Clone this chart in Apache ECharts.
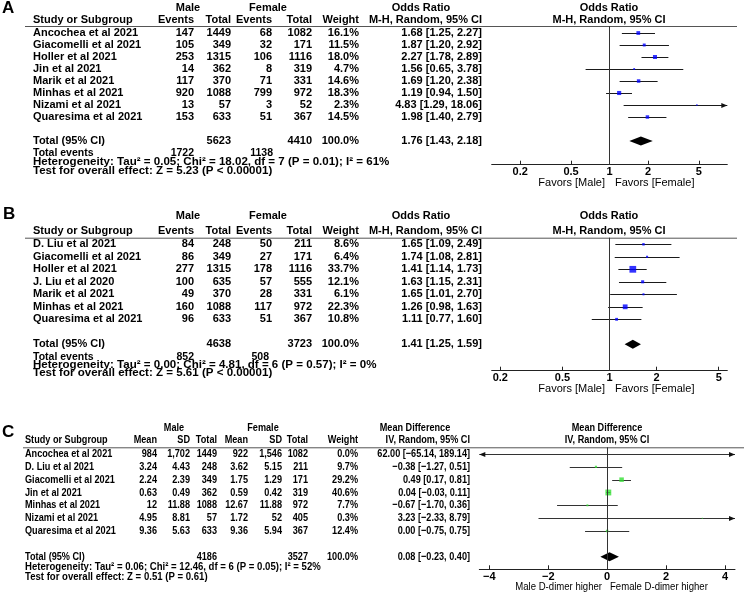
<!DOCTYPE html>
<html><head><meta charset="utf-8">
<script src="https://cdn.jsdelivr.net/npm/echarts@6/dist/echarts.min.js"></script>
<style>html,body{margin:0;padding:0;background:#fff}#c{width:744px;height:596px}</style>
</head><body><div id="c"></div>
<script>
// ---------------- Panel A data ----------------
const studiesA = ['Ancochea et al 2021','Giacomelli et al 2021','Holler et al 2021','Jin et al 2021','Marik et al 2021','Minhas et al 2021','Nizami et al 2021','Quaresima et al 2021'];
const maleEventsA = [147,105,253,14,117,920,13,153];
const maleTotalA = [1449,349,1315,362,370,1088,57,633];
const femaleEventsA = [68,32,106,8,71,799,3,51];
const femaleTotalA = [1082,171,1116,319,331,972,52,367];
const weightA = [16.1,11.5,18.0,4.7,14.6,18.3,2.3,14.5];
const orA = [1.68,1.87,2.27,1.56,1.69,1.19,4.83,1.98];
const orLowA = [1.25,1.20,1.78,0.65,1.20,0.94,1.29,1.40];
const orHighA = [2.27,2.92,2.89,3.78,2.38,1.50,18.06,2.79];
const totalsA = [5623, 4410];
const totalEventsA = [1722, 1138];
const pooledA = [1.76, 1.43, 2.18];
const hetA = 'Heterogeneity: Tau² = 0.05; Chi² = 18.02, df = 7 (P = 0.01); I² = 61%';
const testA = 'Test for overall effect: Z = 5.23 (P < 0.00001)';

// ---------------- Panel B data ----------------
const studiesB = ['D. Liu et al 2021','Giacomelli et al 2021','Holler et al 2021','J. Liu et al 2020','Marik et al 2021','Minhas et al 2021','Quaresima et al 2021'];
const maleEventsB = [84,86,277,100,49,160,96];
const maleTotalB = [248,349,1315,635,370,1088,633];
const femaleEventsB = [50,27,178,57,28,117,51];
const femaleTotalB = [211,171,1116,555,331,972,367];
const weightB = [8.6,6.4,33.7,12.1,6.1,22.3,10.8];
const orB = [1.65,1.74,1.41,1.63,1.65,1.26,1.11];
const orLowB = [1.09,1.08,1.14,1.15,1.01,0.98,0.77];
const orHighB = [2.49,2.81,1.73,2.31,2.70,1.63,1.60];
const totalsB = [4638, 3723];
const totalEventsB = [852, 508];
const pooledB = [1.41, 1.25, 1.59];
const hetB = 'Heterogeneity: Tau² = 0.00; Chi² = 4.81, df = 6 (P = 0.57); I² = 0%';
const testB = 'Test for overall effect: Z = 5.61 (P < 0.00001)';

// ---------------- Panel C data ----------------
const studiesC = ['Ancochea et al 2021','D. Liu et al 2021','Giacomelli et al 2021','Jin et al 2021','Minhas et al 2021','Nizami et al 2021','Quaresima et al 2021'];
const maleMeanC = ['984','3.24','2.24','0.63','12','4.95','9.36'];
const maleSDC = ['1,702','4.43','2.39','0.49','11.88','8.81','5.63'];
const maleTotalC = [1449,248,349,362,1088,57,633];
const femaleMeanC = ['922','3.62','1.75','0.59','12.67','1.72','9.36'];
const femaleSDC = ['1,546','5.15','1.29','0.42','11.88','52','5.94'];
const femaleTotalC = [1082,211,171,319,972,405,367];
const weightC = [0.0,9.7,29.2,40.6,7.7,0.3,12.4];
const mdC = [62.00,-0.38,0.49,0.04,-0.67,3.23,0.00];
const mdLowC = [-65.14,-1.27,0.17,-0.03,-1.70,-2.33,-0.75];
const mdHighC = [189.14,0.51,0.81,0.11,0.36,8.79,0.75];
const totalsC = [4186, 3527];
const pooledC = [0.08, -0.23, 0.40];
const hetC = 'Heterogeneity: Tau² = 0.06; Chi² = 12.46, df = 6 (P = 0.05); I² = 52%';
const testC = 'Test for overall effect: Z = 0.51 (P = 0.61)';

// tick labels
const ticksOR = [0.2, 0.5, 1, 2, 5];
const ticksMD = [-4, -2, 0, 2, 4];

// ---------------- helpers ----------------
const SANS = '"Liberation Sans", Arial, Helvetica, sans-serif';
const fm = v => v.toFixed(2).replace('-', '\u2212');
const ci = (e, l, h) => fm(e) + ' [' + fm(l) + ', ' + fm(h) + ']';
const pct = w => w.toFixed(1) + '%';

function T(x, y, s, font, align, sx) {
  return {type: 'text', x: x, y: y, scaleX: sx || 1, silent: true, z: 10,
    style: {text: String(s), font: font, fill: '#000', align: align || 'left', verticalAlign: 'middle'}};
}
function L(x1, y1, x2, y2, c) {
  return {type: 'line', silent: true, shape: {x1: x1, y1: y1, x2: x2, y2: y2}, style: {stroke: c || '#555', lineWidth: 1}};
}

const graphics = [];
const grids = [], xAxes = [], yAxes = [], series = [];

function buildPanel(P, k) {
  const rowY = i => P.row0 + P.rowH * i;
  const n = P.names.length;
  const sx = P.sx, sxr = P.sxr;
  graphics.push(T(P.letterX, P.letterY, P.letter, 'bold 17px ' + SANS, 'left'));
  P.hdr1.forEach(h => graphics.push(T(h[0], P.h1, h[1], P.bold, 'center', sx)));
  graphics.push(T(P.plotCenter, P.h2, P.plotHdr2, P.bold, 'center', sx));
  graphics.push(T(P.nameX, P.h2, 'Study or Subgroup', P.bold, 'left', sx));
  graphics.push(L(P.lineX0, P.top + 0.5, P.lineX1, P.top + 0.5, '#555'));
  P.names.forEach((s, i) => graphics.push(T(P.nameX, rowY(i), s, P.bold, 'left', sx)));
  P.cols.forEach(c => {
    graphics.push(T(c.x, P.h2, c.hdr, P.bold, 'right', sx));
    c.vals.forEach((v, i) => graphics.push(T(c.x, rowY(i), v, P.bold, 'right', sx)));
  });
  const ty = rowY(n + 1);
  graphics.push(T(P.nameX, ty, 'Total (95% CI)', P.bold, 'left', sx));
  P.totalCells.forEach(c => graphics.push(T(c[0], ty, c[1], P.bold, 'right', sx)));
  P.extraRows.forEach(r => {
    graphics.push(T(P.nameX, r.y, r.text, P.small, 'left', sx * (r.cells ? 1 : P.wide)));
    (r.cells || []).forEach(c => graphics.push(T(c[0], r.y, c[1], P.small, 'right', sx)));
  });
  graphics.push(T(P.favL[0], P.favY, P.favL[1], P.reg, 'right', sxr));
  graphics.push(T(P.favR[0], P.favY, P.favR[1], P.reg, 'left', sxr));

  grids.push({left: P.gLeft, width: P.gWidth, top: P.top, height: P.bottom - P.top});
  xAxes.push({
    type: 'value', gridIndex: k, min: P.xMin, max: P.xMax, position: 'bottom',
    axisLine: {show: true, onZero: false, lineStyle: {color: '#222', width: 1}},
    axisTick: {show: true, inside: true, length: 4, customValues: P.ticks, lineStyle: {color: '#222'}},
    axisLabel: {customValues: P.ticks, formatter: P.fmt, margin: 2, color: '#000',
      fontSize: 11, fontWeight: 'bold', fontFamily: SANS},
    splitLine: {show: false}
  });
  yAxes.push({type: 'value', gridIndex: k, inverse: true, show: false,
    min: (P.top - P.row0) / P.rowH, max: (P.bottom - P.row0) / P.rowH});

  const tf = P.tf;
  series.push({
    type: 'custom', xAxisIndex: k, yAxisIndex: k, z: 2, silent: true,
    data: P.est.map((e, i) => [tf(P.lo[i]), tf(P.hi[i]), i]),
    encode: {x: [0, 1], y: 2},
    renderItem: function (params, api) {
      const lo = api.value(0), hi = api.value(1), yv = api.value(2);
      const p1 = api.coord([lo, yv]), p2 = api.coord([hi, yv]);
      const cs = params.coordSys;
      const xmin = cs.x, xmax = cs.x + cs.width;
      const y = Math.round(p1[1]) + 0.5;
      const x1 = Math.max(p1[0], xmin), x2 = Math.min(p2[0], xmax);
      const ch = [{type: 'line', shape: {x1: x1, y1: y, x2: x2, y2: y}, style: {stroke: P.ciColor, lineWidth: 1}}];
      if (p1[0] < xmin) ch.push({type: 'polygon', shape: {points: [[xmin, y], [xmin + 6, y - 2.5], [xmin + 6, y + 2.5]]}, style: {fill: '#111'}});
      if (p2[0] > xmax) ch.push({type: 'polygon', shape: {points: [[xmax, y], [xmax - 6, y - 2.5], [xmax - 6, y + 2.5]]}, style: {fill: '#111'}});
      return {type: 'group', children: ch};
    }
  });
  series.push({
    type: 'scatter', xAxisIndex: k, yAxisIndex: k, z: 3, silent: true, clip: true,
    symbol: 'rect',
    data: P.est.map((e, i) => [tf(e), i]),
    symbolSize: (v, p) => 1 + P.weight[p.dataIndex] * P.sizeK,
    itemStyle: {color: P.markColor},
    markLine: {silent: true, symbol: ['none', 'none'], label: {show: false}, animation: false,
      lineStyle: {color: '#333', width: 1, type: 'solid'}, data: [{xAxis: tf(P.nullValue)}]}
  });
  series.push({
    type: 'custom', xAxisIndex: k, yAxisIndex: k, z: 4, silent: true,
    data: [[tf(P.pooled[1]), tf(P.pooled[0]), tf(P.pooled[2]), n + 1]],
    encode: {x: [0, 1, 2], y: 3},
    renderItem: function (params, api) {
      const yv = api.value(3);
      const a = api.coord([api.value(0), yv]), b = api.coord([api.value(1), yv]), c = api.coord([api.value(2), yv]);
      return {type: 'polygon', shape: {points: [[a[0], a[1]], [b[0], a[1] - 4.5], [c[0], a[1]], [b[0], a[1] + 4.5]]}, style: {fill: '#000'}};
    }
  });
}

const log10 = v => Math.log10(v);
const orFmt = v => String(Math.round(Math.pow(10, v) * 10) / 10);
const mdFmt = v => (v < 0 ? '\u2212' + Math.abs(v) : String(v));
const boldAB = 'bold 11px ' + SANS;
const smallAB = 'bold 10.5px ' + SANS;
const regAB = '11px ' + SANS;

buildPanel({
  letter: 'A', letterX: 2, letterY: 8, bold: boldAB, small: smallAB, reg: regAB, sx: 1, sxr: 1, wide: 1.1,
  row0: 33, rowH: 12.0, top: 26, bottom: 164.7, h1: 7.5, h2: 20, nameX: 33, lineX0: 25, lineX1: 737,
  names: studiesA,
  hdr1: [[188, 'Male'], [268, 'Female'], [421, 'Odds Ratio'], [609, 'Odds Ratio']],
  plotCenter: 609, plotHdr2: 'M-H, Random, 95% CI',
  cols: [
    {x: 194, hdr: 'Events', vals: maleEventsA},
    {x: 231, hdr: 'Total', vals: maleTotalA},
    {x: 272, hdr: 'Events', vals: femaleEventsA},
    {x: 312, hdr: 'Total', vals: femaleTotalA},
    {x: 359, hdr: 'Weight', vals: weightA.map(pct)},
    {x: 482, hdr: 'M-H, Random, 95% CI', vals: orA.map((e, i) => ci(e, orLowA[i], orHighA[i]))}
  ],
  totalCells: [[231, totalsA[0]], [312, totalsA[1]], [359, '100.0%'], [482, ci(pooledA[0], pooledA[1], pooledA[2])]],
  extraRows: [
    {y: 153.5, text: 'Total events', cells: [[194, totalEventsA[0]], [273, totalEventsA[1]]]},
    {y: 162.3, text: hetA}, {y: 170.8, text: testA}
  ],
  favY: 182.5, favL: [605, 'Favors [Male]'], favR: [615, 'Favors [Female]'],
  gLeft: 491.7, gWidth: 235.6, xMin: -0.922, xMax: 0.922,
  ticks: ticksOR.map(log10), fmt: orFmt, tf: log10, nullValue: 1,
  est: orA, lo: orLowA, hi: orHighA, weight: weightA, pooled: pooledA,
  sizeK: 0.17, markColor: '#0000ff', ciColor: '#1a1a1a'
}, 0);

buildPanel({
  letter: 'B', letterX: 3, letterY: 214, bold: boldAB, small: smallAB, reg: regAB, sx: 1, sxr: 1, wide: 1.1,
  row0: 244.3, rowH: 12.5, top: 237.7, bottom: 370.7, h1: 216, h2: 231, nameX: 33, lineX0: 25, lineX1: 737,
  names: studiesB,
  hdr1: [[188, 'Male'], [268, 'Female'], [421, 'Odds Ratio'], [609, 'Odds Ratio']],
  plotCenter: 609, plotHdr2: 'M-H, Random, 95% CI',
  cols: [
    {x: 194, hdr: 'Events', vals: maleEventsB},
    {x: 231, hdr: 'Total', vals: maleTotalB},
    {x: 272, hdr: 'Events', vals: femaleEventsB},
    {x: 312, hdr: 'Total', vals: femaleTotalB},
    {x: 359, hdr: 'Weight', vals: weightB.map(pct)},
    {x: 482, hdr: 'M-H, Random, 95% CI', vals: orB.map((e, i) => ci(e, orLowB[i], orHighB[i]))}
  ],
  totalCells: [[231, totalsB[0]], [312, totalsB[1]], [359, '100.0%'], [482, ci(pooledB[0], pooledB[1], pooledB[2])]],
  extraRows: [
    {y: 357.3, text: 'Total events', cells: [[194, totalEventsB[0]], [269, totalEventsB[1]]]},
    {y: 365.3, text: hetB}, {y: 373.3, text: testB}
  ],
  favY: 389, favL: [605, 'Favors [Male]'], favR: [615, 'Favors [Female]'],
  gLeft: 491.7, gWidth: 235.6, xMin: -0.754, xMax: 0.754,
  ticks: ticksOR.map(log10), fmt: orFmt, tf: log10, nullValue: 1,
  est: orB, lo: orLowB, hi: orHighB, weight: weightB, pooled: pooledB,
  sizeK: 0.17, markColor: '#0000ff', ciColor: '#1a1a1a'
}, 1);

buildPanel({
  letter: 'C', letterX: 2, letterY: 432, bold: 'bold 11px ' + SANS, small: 'bold 11px ' + SANS, reg: '11px ' + SANS, sx: 0.83, sxr: 0.87, wide: 1.05,
  row0: 454, rowH: 12.83, top: 447.3, bottom: 569.3, h1: 428, h2: 440, nameX: 25, lineX0: 23, lineX1: 744,
  names: studiesC,
  hdr1: [[174, 'Male'], [263, 'Female'], [415, 'Mean Difference'], [607, 'Mean Difference']],
  plotCenter: 607, plotHdr2: 'IV, Random, 95% CI',
  cols: [
    {x: 157, hdr: 'Mean', vals: maleMeanC},
    {x: 190, hdr: 'SD', vals: maleSDC},
    {x: 217, hdr: 'Total', vals: maleTotalC},
    {x: 248, hdr: 'Mean', vals: femaleMeanC},
    {x: 282, hdr: 'SD', vals: femaleSDC},
    {x: 308, hdr: 'Total', vals: femaleTotalC},
    {x: 358, hdr: 'Weight', vals: weightC.map(pct)},
    {x: 470, hdr: 'IV, Random, 95% CI', vals: mdC.map((e, i) => ci(e, mdLowC[i], mdHighC[i]))}
  ],
  totalCells: [[217, totalsC[0]], [308, totalsC[1]], [358, '100.0%'], [470, ci(pooledC[0], pooledC[1], pooledC[2])]],
  extraRows: [{y: 567, text: hetC}, {y: 577, text: testC}],
  favY: 587.3, favL: [602, 'Male D-dimer higher'], favR: [610, 'Female D-dimer higher'],
  gLeft: 479.3, gWidth: 255.7, xMin: -4.34, xMax: 4.34,
  ticks: ticksMD, fmt: mdFmt, tf: v => v, nullValue: 0,
  est: mdC, lo: mdLowC, hi: mdHighC, weight: weightC, pooled: pooledC,
  sizeK: 0.12, markColor: '#33e033', ciColor: '#333'
}, 2);

const chart = echarts.init(document.getElementById('c'), null, {renderer: 'canvas'});
chart.setOption({
  backgroundColor: '#fff',
  animation: false,
  grid: grids.map(g => Object.assign({outerBoundsMode: 'none'}, g)),
  xAxis: xAxes,
  yAxis: yAxes,
  series: series,
  graphic: {elements: graphics}
});
</script>
</body></html>
